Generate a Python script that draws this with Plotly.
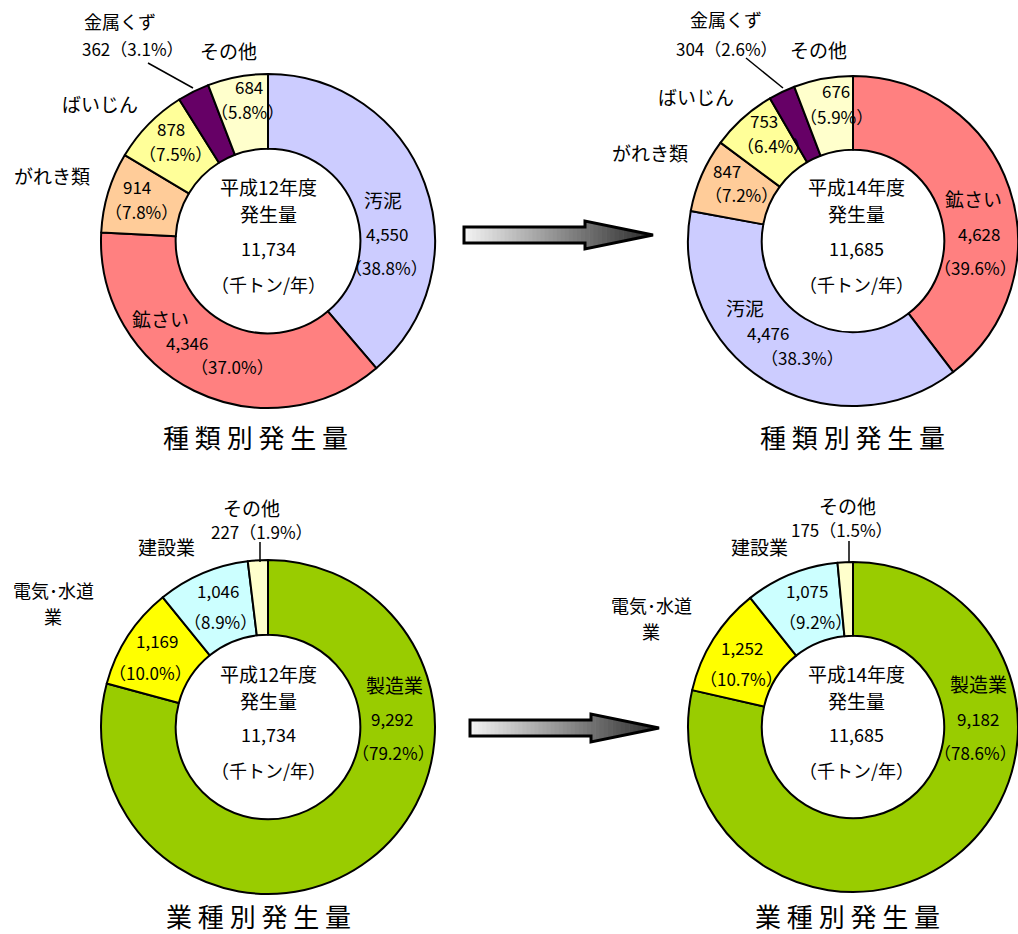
import plotly.graph_objects as go

# ---------------- data ----------------
waste_h12_cats = ["汚泥", "鉱さい", "がれき類", "ばいじん", "金属くず", "その他"]
waste_h12_vals = [4550, 4346, 914, 878, 362, 684]
waste_h12_pct = [38.8, 37.0, 7.8, 7.5, 3.1, 5.8]

waste_h14_cats = ["鉱さい", "汚泥", "がれき類", "ばいじん", "金属くず", "その他"]
waste_h14_vals = [4628, 4476, 847, 753, 304, 676]
waste_h14_pct = [39.6, 38.3, 7.2, 6.4, 2.6, 5.9]

ind_cats = ["製造業", "電気･水道業", "建設業", "その他"]
ind_h12_vals = [9292, 1169, 1046, 227]
ind_h12_pct = [79.2, 10.0, 8.9, 1.9]
ind_h14_vals = [9182, 1252, 1075, 175]
ind_h14_pct = [78.6, 10.7, 9.2, 1.5]

total_h12 = 11734
total_h14 = 11685
year_labels = ["平成12年度", "平成14年度"]
unit_label = "（千トン/年）"
center_label = "発生量"
title_waste = "種類別発生量"
title_ind = "業種別発生量"

# ---------------- style ----------------
W, H = 1018, 934
FONT = "Noto Sans CJK JP"
waste_colors = {"汚泥": "#CCCCFF", "鉱さい": "#FF8080", "がれき類": "#FFCC99",
                "ばいじん": "#FFFF99", "金属くず": "#660066", "その他": "#FFFFCC"}
ind_colors = {"製造業": "#99CC00", "電気･水道業": "#FFFF00", "建設業": "#CCFFFF",
              "その他": "#FFFFCC"}
# names that wrap onto two lines: (first line, second line)
name_split = {"電気･水道業": ("電気･水道", "業")}
name_size = {"金属くず": 18}
NAME_SIZE, NUM_SIZE, CENTER_SIZE, TITLE_SIZE = 19, 17, 19, 26


def px(x):
    return x / W


def py(y):
    return 1 - y / H


fig = go.Figure()


def add_pie(cats, vals, colors, x0, x1, cy, r):
    fig.add_trace(go.Pie(
        labels=cats, values=vals, sort=False, direction="clockwise", rotation=0,
        hole=0.553, textinfo="none", hoverinfo="none", showlegend=False,
        marker=dict(colors=[colors[c] for c in cats], line=dict(color="black", width=2)),
        domain=dict(x=[px(x0), px(x1)], y=[py(cy + r), py(cy - r)]),
    ))


add_pie(waste_h12_cats, waste_h12_vals, waste_colors, 101, 435, 241, 167)
add_pie(waste_h14_cats, waste_h14_vals, waste_colors, 688, 1018, 241, 165)
add_pie(ind_cats, ind_h12_vals, ind_colors, 101, 435, 727, 167)
add_pie(ind_cats, ind_h14_vals, ind_colors, 688, 1018, 727, 165)

annotations = []


def txt(s, x, y, size=16):
    annotations.append(dict(text=s, x=px(x), y=py(y), xref="paper", yref="paper",
                            xanchor="center", yanchor="middle", showarrow=False,
                            font=dict(family=FONT, size=size, color="black")))


def fmt_val(v):
    return f"{v:,}"


def fmt_pct(p):
    return f"（{p:.1f}%）"


def label_chart(cats, vals, pcts, spec):
    for c, v, p in zip(cats, vals, pcts):
        for kind, x, y in spec.get(c, []):
            if kind == "name":
                if c in name_split:
                    a, b = name_split[c]
                    txt(a, x, y - 13, NAME_SIZE - 1)
                    txt(b, x, y + 13, NAME_SIZE - 1)
                else:
                    txt(c, x, y, name_size.get(c, NAME_SIZE))
            elif kind == "val":
                txt(fmt_val(v), x, y, NUM_SIZE)
            elif kind == "pct":
                txt(fmt_pct(p), x, y, NUM_SIZE)
            elif kind == "valpct":
                txt(f"{fmt_val(v)}{fmt_pct(p)}", x, y, NUM_SIZE)


# label positions (pixels)
spec_w12 = {
    "汚泥": [("name", 383, 199), ("val", 387, 233), ("pct", 386, 268)],
    "鉱さい": [("name", 160, 318), ("val", 187, 342), ("pct", 232, 366)],
    "がれき類": [("name", 52, 176), ("val", 137, 187), ("pct", 141, 212)],
    "ばいじん": [("name", 100, 104), ("val", 171, 128), ("pct", 175, 153)],
    "金属くず": [("name", 120, 21), ("valpct", 133, 49)],
    "その他": [("name", 228, 51), ("val", 249, 86), ("pct", 247, 111)],
}
spec_w14 = {
    "鉱さい": [("name", 973, 198), ("val", 979, 233), ("pct", 975, 268)],
    "汚泥": [("name", 745, 307), ("val", 768, 332), ("pct", 802, 357)],
    "がれき類": [("name", 650, 152), ("val", 727, 170), ("pct", 741, 194)],
    "ばいじん": [("name", 696, 96), ("val", 764, 121), ("pct", 773, 145)],
    "金属くず": [("name", 726, 19), ("valpct", 727, 49)],
    "その他": [("name", 818, 50), ("val", 836, 90), ("pct", 836, 116)],
}
spec_i12 = {
    "製造業": [("name", 394, 684), ("val", 392, 718), ("pct", 393, 752)],
    "電気･水道業": [("name", 53, 603), ("val", 157, 640), ("pct", 150, 672)],
    "建設業": [("name", 166, 546), ("val", 218, 590), ("pct", 220, 621)],
    "その他": [("name", 251, 507), ("valpct", 262, 531)],
}
spec_i14 = {
    "製造業": [("name", 978, 683), ("val", 978, 718), ("pct", 975, 752)],
    "電気･水道業": [("name", 651, 618), ("val", 742, 647), ("pct", 741, 678)],
    "建設業": [("name", 759, 546), ("val", 807, 590), ("pct", 815, 621)],
    "その他": [("name", 847, 505), ("valpct", 842, 529)],
}
label_chart(waste_h12_cats, waste_h12_vals, waste_h12_pct, spec_w12)
label_chart(waste_h14_cats, waste_h14_vals, waste_h14_pct, spec_w14)
label_chart(ind_cats, ind_h12_vals, ind_h12_pct, spec_i12)
label_chart(ind_cats, ind_h14_vals, ind_h14_pct, spec_i14)

# centre texts
for cx, cy, yl, tot in [(268, 241, year_labels[0], total_h12), (856, 241, year_labels[1], total_h14),
                        (268, 727, year_labels[0], total_h12), (856, 727, year_labels[1], total_h14)]:
    txt(yl, cx, cy - 54, CENTER_SIZE)
    txt(center_label, cx, cy - 27, CENTER_SIZE)
    txt(fmt_val(tot), cx, cy + 7, NUM_SIZE + 1)
    txt(unit_label, cx, cy + 43, CENTER_SIZE - 1)

# titles
spaced = lambda s: " ".join(s)
txt(spaced(title_waste), 255, 436, TITLE_SIZE)
txt(spaced(title_waste), 852, 436, TITLE_SIZE)
txt(spaced(title_ind), 258, 915, TITLE_SIZE)
txt(spaced(title_ind), 847, 915, TITLE_SIZE)

shapes = []


def line(x0, y0, x1, y1, w=1.5):
    shapes.append(dict(type="line", xref="paper", yref="paper", x0=px(x0), y0=py(y0),
                       x1=px(x1), y1=py(y1), line=dict(color="black", width=w)))


# leader lines
line(148, 63, 193, 88)
line(746, 58, 783, 88)
line(260, 542, 260, 562)
line(849, 541, 849, 562)


def gray(t):
    # t: 0 (left, light) .. 1 (right, dark)
    v = int(242 - t * (242 - 40))
    return f"rgb({v},{v},{v})"


def arrow(xs, yc):
    x_end = xs + 189
    head_x = xs + 121
    sh = 8   # shaft half height
    hh = 14  # head half height
    n = 30
    total = x_end - xs
    for i in range(n):
        a = xs + (head_x - xs) * i / n
        b = xs + (head_x - xs) * (i + 1) / n + 0.6
        t = (a - xs) / total
        shapes.append(dict(type="rect", xref="paper", yref="paper", x0=px(a), x1=px(b),
                           y0=py(yc + sh), y1=py(yc - sh), line=dict(width=0),
                           fillcolor=gray(t)))
    m = 16
    for i in range(m):
        a = head_x + (x_end - head_x) * i / m
        b = head_x + (x_end - head_x) * (i + 1) / m
        ha = hh * (x_end - a) / (x_end - head_x)
        hb = hh * (x_end - b) / (x_end - head_x)
        t = (a - xs) / total
        path = (f"M {px(a)},{py(yc - ha)} L {px(b + 0.6)},{py(yc - hb)} "
                f"L {px(b + 0.6)},{py(yc + hb)} L {px(a)},{py(yc + ha)} Z")
        shapes.append(dict(type="path", xref="paper", yref="paper", path=path,
                           line=dict(width=0), fillcolor=gray(t)))
    pts = [(xs, yc - sh), (head_x, yc - sh), (head_x, yc - hh), (x_end, yc),
           (head_x, yc + hh), (head_x, yc + sh), (xs, yc + sh)]
    path = "M " + " L ".join(f"{px(x)},{py(y)}" for x, y in pts) + " Z"
    shapes.append(dict(type="path", xref="paper", yref="paper", path=path,
                       line=dict(color="black", width=3), fillcolor="rgba(0,0,0,0)"))


arrow(464, 235)
arrow(470, 728)

fig.update_layout(
    width=W, height=H, margin=dict(l=0, r=0, t=0, b=0),
    paper_bgcolor="white", plot_bgcolor="white",
    font=dict(family=FONT), annotations=annotations, shapes=shapes,
)

fig.write_html("out.html", config={"displayModeBar": False},
               post_script="document.body.style.margin='0';document.body.style.overflow='hidden';")
